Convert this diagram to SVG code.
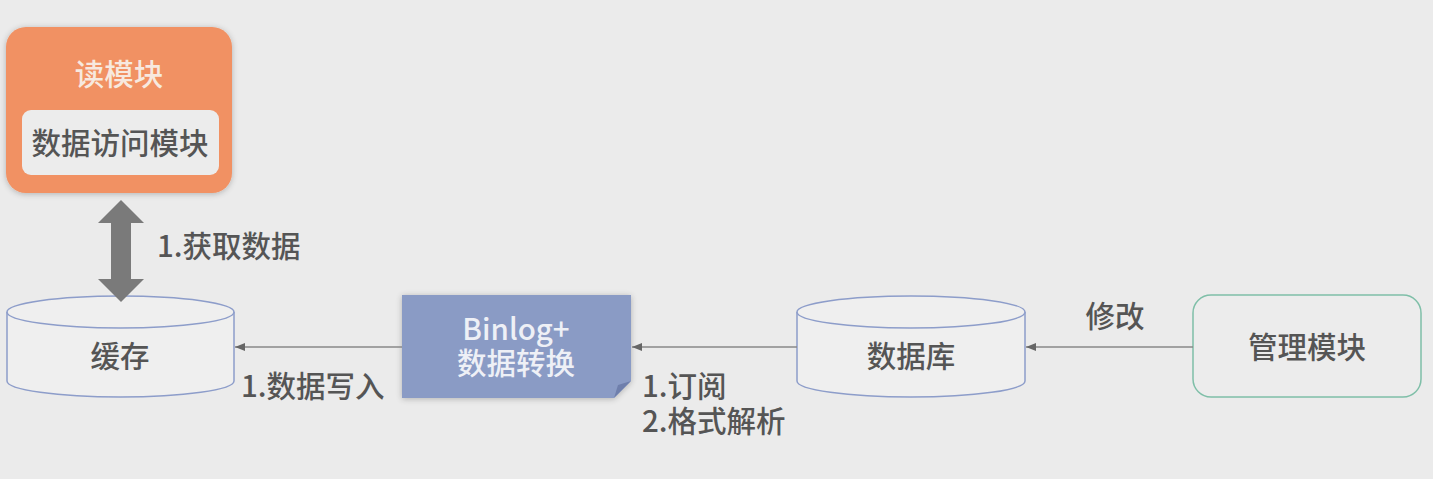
<svg xmlns="http://www.w3.org/2000/svg" width="1433" height="479" viewBox="0 0 1433 479">
<defs>
<style>
text{font-family:"Noto Sans CJK SC","Noto Sans",sans-serif;font-size:29.5px;font-weight:500;fill:#555;text-anchor:middle;dominant-baseline:central}
.lbl{text-anchor:start}
.cyl{fill:#efefef;stroke:#8d9dca;stroke-width:1.5}
.conn{stroke:#888;stroke-width:1.5;fill:none;marker-end:url(#ah)}
</style>
<marker id="ah" viewBox="0 0 10 10" refX="10" refY="5" markerWidth="10" markerHeight="10" markerUnits="userSpaceOnUse" orient="auto">
<path d="M0,1 L10,5 L0,9 Z" fill="#666"/>
</marker>
<filter id="sh" x="-20%" y="-20%" width="140%" height="140%">
<feGaussianBlur in="SourceAlpha" stdDeviation="3"/>
<feOffset dx="0" dy="1"/>
<feComponentTransfer><feFuncA type="linear" slope="0.25"/></feComponentTransfer>
<feMerge><feMergeNode/><feMergeNode in="SourceGraphic"/></feMerge>
</filter>
</defs>
<rect width="1433" height="479" fill="#ebebeb"/>

<g id="read-module">
<rect x="6" y="27" width="226" height="166" rx="20" fill="#f19163" filter="url(#sh)"/>
<text x="119" y="72" style="fill:#f7e9df">读模块</text>
<rect x="22" y="110" width="197" height="65" rx="9" fill="#ececec"/>
<text x="120" y="141">数据访问模块</text>
</g>

<g id="cache">
<path class="cyl" d="M7,312 L7,381 A113.5,16 0 0 0 234,381 L234,312"/>
<ellipse class="cyl" cx="120.5" cy="312" rx="113.5" ry="16"/>
<text x="120" y="354">缓存</text>
</g>

<g id="binlog">
<path d="M402,295 L631,295 L631,381 L614,398 L402,398 Z" fill="#8a9bc5" filter="url(#sh)"/>
<path d="M631,381 L618,385 L614,398 Z" fill="#6f7fac"/>
<text x="516" y="327" style="fill:#eef0f6">Binlog+</text>
<text x="516" y="361" style="fill:#eef0f6">数据转换</text>
</g>

<g id="database">
<path class="cyl" d="M797,312 L797,381 A114,16 0 0 0 1025,381 L1025,312"/>
<ellipse class="cyl" cx="911" cy="312" rx="114" ry="16"/>
<text x="911" y="354">数据库</text>
</g>

<g id="admin-module">
<rect x="1193" y="295" width="228" height="102" rx="18" fill="#ececec" stroke="#7fbfa8" stroke-width="1.5"/>
<text x="1307" y="345">管理模块</text>
</g>

<g id="connectors">
<path d="M121,200 L144,223 L131,223 L131,279 L144,279 L121,302 L98,279 L111,279 L111,223 L98,223 Z" fill="#7a7a7a"/>
<path class="conn" d="M402,347 L235,347"/>
<path class="conn" d="M797,347 L632,347"/>
<path class="conn" d="M1193,347 L1026,347"/>
<text class="lbl" x="157" y="244">1.获取数据</text>
<text class="lbl" x="241" y="384">1.数据写入</text>
<text class="lbl" x="642" y="384">1.订阅</text>
<text class="lbl" x="642" y="419">2.格式解析</text>
<text x="1115" y="314">修改</text>
</g>
</svg>
